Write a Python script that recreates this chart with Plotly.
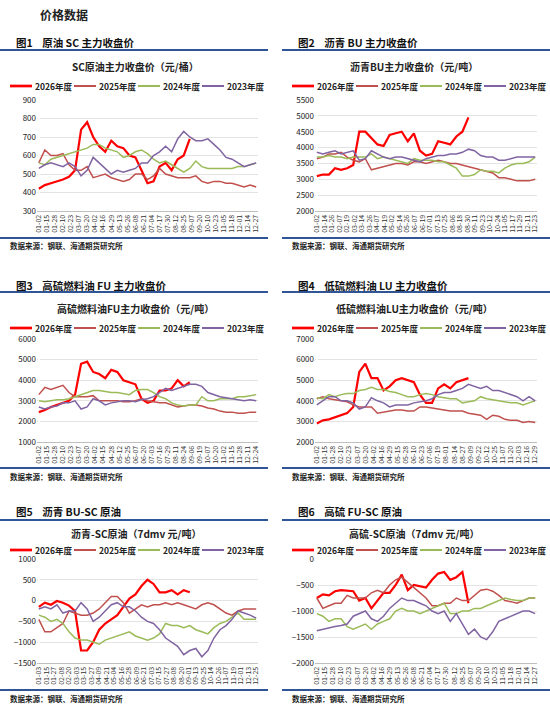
import plotly.graph_objects as go

# sample days (every 10 days from 01-02)
days = list(range(0, 361, 10))

years = ["2026年度", "2025年度", "2024年度", "2023年度"]
colors = ["#FF0000", "#C0504D", "#9BBB59", "#8064A2"]
widths = [2.2, 1.5, 1.5, 1.5]

# 图1 SC
sc_2026 = [420, 440, 450, 460, 470, 485, 520, 740, 780, 700, 650, 620, 680, 650, 640, 600, 590, 520, 450, 460, 540, 560, 520, 580, 600, 690]
sc_2025 = [560, 630, 600, 600, 610, 550, 520, 520, 540, 480, 490, 500, 480, 470, 460, 470, 500, 500, 470, 490, 530, 500, 490, 480, 480, 480, 490, 460, 450, 460, 460, 450, 450, 440, 430, 440, 430]
sc_2024 = [560, 550, 580, 590, 600, 610, 620, 630, 640, 660, 660, 640, 630, 620, 590, 600, 620, 630, 610, 580, 560, 570, 550, 530, 510, 530, 570, 540, 530, 530, 530, 530, 530, 540, 540, 550, 560]
sc_2023 = [530, 550, 560, 550, 540, 560, 540, 490, 520, 590, 560, 530, 500, 520, 510, 520, 530, 560, 560, 600, 620, 650, 620, 690, 730, 700, 680, 680, 690, 660, 630, 590, 580, 560, 540, 550, 560]

# 图2 BU
bu_2026 = [3100, 3150, 3150, 3350, 3300, 3350, 3450, 4500, 4500, 4300, 4100, 4050, 4400, 4450, 4500, 4200, 4450, 3900, 3750, 3800, 4200, 4150, 4100, 4350, 4500, 4950]
bu_2025 = [3650, 3700, 3800, 3800, 3850, 3700, 3600, 3550, 3650, 3300, 3350, 3400, 3450, 3500, 3500, 3450, 3550, 3550, 3500, 3550, 3600, 3550, 3500, 3500, 3450, 3400, 3350, 3300, 3250, 3200, 3050, 3050, 3000, 2950, 2950, 2950, 3000]
bu_2024 = [3700, 3700, 3750, 3700, 3700, 3650, 3700, 3700, 3700, 3800, 3650, 3700, 3650, 3600, 3550, 3500, 3650, 3600, 3600, 3600, 3550, 3550, 3450, 3350, 3100, 3100, 3150, 3300, 3250, 3250, 3200, 3350, 3450, 3500, 3500, 3550, 3700]
bu_2023 = [3850, 3800, 3850, 3900, 3800, 3850, 3900, 3600, 3650, 3900, 3800, 3700, 3650, 3700, 3700, 3650, 3600, 3550, 3650, 3700, 3750, 3750, 3800, 3800, 3850, 3950, 3900, 3750, 3700, 3700, 3600, 3600, 3650, 3700, 3700, 3700, 3700]

# 图3 FU
fu_2026 = [2450, 2550, 2700, 2800, 2900, 3000, 3300, 4800, 4900, 4400, 4300, 4100, 4500, 4400, 4000, 3900, 3800, 3100, 2900, 3000, 3500, 3500, 3600, 4000, 3700, 3900]
fu_2025 = [3300, 3650, 3550, 3650, 3750, 3400, 3200, 3200, 3200, 3250, 3000, 3000, 3000, 3000, 2950, 2950, 3000, 3100, 3000, 2950, 2900, 2900, 2800, 2700, 2750, 2800, 2800, 2750, 2650, 2600, 2500, 2450, 2450, 2400, 2400, 2450, 2450]
fu_2024 = [3000, 2950, 3000, 3050, 3050, 3100, 3200, 3300, 3400, 3500, 3500, 3450, 3400, 3400, 3350, 3300, 3500, 3550, 3550, 3400, 3200, 3100, 2900, 2800, 2750, 2800, 2800, 3200, 3000, 3000, 3100, 3100, 3100, 3200, 3200, 3250, 3300]
fu_2023 = [2700, 2600, 2700, 2750, 2900, 2900, 3000, 2600, 2700, 3100, 3000, 2800, 2900, 2950, 3000, 3000, 2950, 3050, 3100, 3200, 3400, 3600, 3500, 3600, 3700, 3800, 3800, 3700, 3400, 3300, 3200, 3150, 3100, 3050, 3000, 3050, 3000]

# 图4 LU
lu_2026 = [2900, 3050, 3100, 3200, 3300, 3400, 3700, 5400, 5800, 5100, 5100, 4500, 4700, 5000, 5100, 5000, 4900, 4300, 3900, 3900, 4600, 4800, 4600, 4900, 5000, 5100]
lu_2025 = [4100, 4200, 4100, 4050, 4000, 3950, 3800, 3700, 3700, 3700, 3400, 3450, 3500, 3550, 3550, 3500, 3500, 3700, 3700, 3650, 3600, 3550, 3500, 3500, 3500, 3400, 3350, 3300, 3100, 3300, 3250, 3100, 3050, 3050, 2950, 3000, 2950]
lu_2024 = [4150, 4100, 4300, 4200, 4300, 4350, 4350, 4500, 4550, 4650, 4550, 4550, 4450, 4400, 4300, 4200, 4200, 4300, 4350, 4300, 4200, 4150, 4100, 4100, 3900, 3950, 4000, 4200, 4100, 4050, 4000, 3950, 3900, 3900, 3800, 3900, 4000]
lu_2023 = [3800, 4000, 4200, 4200, 4000, 4000, 3900, 3600, 3700, 4150, 4000, 3900, 3700, 3800, 3800, 3800, 3900, 3950, 4000, 4100, 4300, 4400, 4400, 4500, 4600, 4800, 4700, 4600, 4700, 4500, 4500, 4400, 4300, 4200, 4000, 4200, 4000]

# 图5 BU-SC
busc_2026 = [-150, -50, -100, -10, -50, -120, -250, -1200, -1200, -1000, -700, -550, -450, -350, -150, 50, 150, 350, 500, 400, 200, 200, 250, 150, 250, 200]
busc_2025 = [-450, -750, -750, -650, -550, -250, -300, -350, -350, -300, -200, -50, 100, 100, -50, -300, -200, -100, -150, -100, -100, -50, -100, -50, -100, -150, -200, -100, -50, -100, -200, -300, -350, -250, -200, -200, -200]
busc_2024 = [-350, -400, -500, -450, -550, -750, -900, -950, -950, -1000, -1050, -950, -900, -850, -800, -750, -850, -900, -950, -900, -800, -550, -600, -600, -650, -600, -700, -750, -800, -650, -550, -500, -400, -300, -450, -450, -450]
busc_2023 = [-200, -150, -200, -100, -300, -250, -250, -50, -200, -500, -400, -250, -100, -50, -150, -150, -250, -400, -500, -550, -700, -900, -1000, -1100, -1300, -1200, -1150, -1350, -1200, -900, -700, -600, -450, -250, -300, -350, -420]

# 图6 FU-SC
fusc_2026 = [-750, -680, -700, -620, -600, -610, -620, -800, -750, -950, -800, -650, -650, -500, -300, -600, -500, -520, -550, -400, -280, -250, -400, -350, -250, -850]
fusc_2025 = [-750, -950, -900, -850, -850, -700, -750, -750, -750, -650, -600, -650, -500, -400, -350, -450, -550, -650, -750, -900, -900, -850, -850, -750, -800, -800, -700, -600, -580, -620, -700, -800, -820, -850, -800, -750, -750]
fusc_2024 = [-1050, -1100, -1200, -1150, -1150, -1300, -1350, -1300, -1250, -1350, -1250, -1200, -1150, -1000, -950, -1000, -1000, -1050, -1000, -950, -900, -850, -1050, -1050, -1000, -1000, -950, -950, -900, -850, -800, -750, -780, -800, -800, -750, -750]
fusc_2023 = [-1380, -1350, -1320, -1300, -1280, -1250, -1100, -1050, -1000, -1150, -1200, -1100, -950, -850, -750, -800, -800, -850, -900, -1000, -1050, -1000, -1200, -1050, -1250, -1450, -1350, -1500, -1550, -1400, -1200, -1150, -1100, -1050, -1000, -1000, -1050]

ticks_a = ["01-02", "01-15", "01-28", "02-10", "02-23", "03-07", "03-20", "04-02", "04-16", "04-29", "05-13", "05-26", "06-08", "06-21", "07-04", "07-17", "07-30", "08-12", "08-25", "09-07", "09-20", "10-10", "10-23", "11-05", "11-18", "12-01", "12-14", "12-27"]
ticks_bu = ["01-02", "01-14", "01-26", "02-07", "02-19", "03-02", "03-14", "03-26", "04-07", "04-19", "05-02", "05-14", "05-26", "06-07", "06-19", "07-01", "07-13", "07-25", "08-06", "08-18", "08-30", "09-11", "09-23", "10-12", "10-24", "11-05", "11-17", "11-29", "12-11", "12-23"]
ticks_fu = ["01-02", "01-15", "01-28", "02-10", "02-23", "03-07", "03-20", "04-02", "04-15", "04-28", "05-12", "05-25", "06-07", "06-20", "07-03", "07-16", "07-29", "08-11", "08-24", "09-06", "09-19", "10-07", "10-20", "11-02", "11-15", "11-28", "12-11", "12-24"]
ticks_lu = ["01-02", "01-15", "01-28", "02-10", "02-23", "03-07", "03-20", "04-02", "04-16", "04-29", "05-15", "05-28", "06-10", "06-23", "07-06", "07-19", "08-01", "08-14", "08-27", "09-09", "09-22", "10-12", "10-25", "11-07", "11-20", "12-03", "12-16", "12-29"]
ticks_busc = ["01-03", "01-15", "01-27", "02-08", "02-20", "03-03", "03-15", "03-27", "04-09", "04-21", "05-04", "05-16", "05-28", "06-09", "06-21", "07-03", "07-15", "07-27", "08-08", "08-20", "09-01", "09-13", "09-25", "10-14", "10-26", "11-07", "11-19", "12-01", "12-13", "12-25"]

panels = [
    ("图1", "原油 SC 主力收盘价", "SC原油主力收盘价（元/桶）", [sc_2026, sc_2025, sc_2024, sc_2023], ticks_a, [300, 900], 100),
    ("图2", "沥青 BU 主力收盘价", "沥青BU主力收盘价（元/吨）", [bu_2026, bu_2025, bu_2024, bu_2023], ticks_bu, [2000, 5500], 500),
    ("图3", "高硫燃料油 FU 主力收盘价", "高硫燃料油FU主力收盘价（元/吨）", [fu_2026, fu_2025, fu_2024, fu_2023], ticks_fu, [1000, 6000], 1000),
    ("图4", "低硫燃料油 LU 主力收盘价", "低硫燃料油LU主力收盘价（元/吨）", [lu_2026, lu_2025, lu_2024, lu_2023], ticks_lu, [2000, 7000], 1000),
    ("图5", "沥青 BU-SC 原油", "沥青-SC原油（7dmv 元/吨）", [busc_2026, busc_2025, busc_2024, busc_2023], ticks_busc, [-1500, 1000], 500),
    ("图6", "高硫 FU-SC 原油", "高硫-SC原油（7dmv 元/吨）", [fusc_2026, fusc_2025, fusc_2024, fusc_2023], ticks_a, [-2000, 0], 500),
]

W, H = 550, 704
col_x = [(37, 258), (315, 537)]
# rows: header y, line y, title y, legend y, plot top, plot bottom, bottom line y, source y
rows = [
    (42, 50, 66, 86, 100, 211, 238, 246),
    (285, 292, 308, 328, 339, 442, 468, 476),
    (511, 520, 533, 550, 559, 663, 690, 698),
]

fig = go.Figure()
annotations = []
shapes = []
FONT = "Noto Sans CJK SC"

def px(v):
    return v / W

def py(v):
    return 1 - v / H

def note(text, x, y, size, anchor="left", color="#222"):
    annotations.append(dict(text=f"<b>{text}</b>", x=px(x), y=py(y), xref="paper", yref="paper",
                            showarrow=False, xanchor=anchor, yanchor="middle",
                            font=dict(size=size, color=color)))

note("价格数据", 38, 14, 12)

for k, (fig_no, head, title, series, ticks, yr, dt) in enumerate(panels):
    r, c = divmod(k, 2)
    hy, ly, ty, gy, top, bot, bly, sy = rows[r]
    x0, x1 = col_x[c]
    n = k + 1
    xa = "x" if n == 1 else f"x{n}"
    ya = "y" if n == 1 else f"y{n}"
    tickpos = [i * 360 / (len(ticks) - 1) for i in range(len(ticks))]
    for vals, name, col, w in zip(series, years, colors, widths):
        fig.add_trace(go.Scatter(x=days[:len(vals)], y=vals, name=name, mode="lines",
                                 line=dict(color=col, width=w), xaxis=xa, yaxis=ya, showlegend=False))
    fig.layout[xa.replace("x", "xaxis")] = dict(
        domain=[px(x0), px(x1)], anchor=ya, range=[-3, 363], tickvals=tickpos, ticktext=ticks,
        tickangle=-90, tickfont=dict(size=7, color="#333"), showgrid=False, showline=True,
        linecolor="#bfbfbf", ticks="", fixedrange=True, automargin=False)
    fig.layout[ya.replace("y", "yaxis")] = dict(
        domain=[py(bot), py(top)], anchor=xa, range=yr, dtick=dt, tickfont=dict(size=8, color="#222"),
        gridcolor="#e3e3e3", zeroline=False, showline=False, fixedrange=True, automargin=False,
        tickformat="d")
    lx0 = 0 if c == 0 else 282
    lx1 = 268 if c == 0 else 550
    # hand-drawn legend
    step = 64
    for j, (name, col, w) in enumerate(zip(years, colors, widths)):
        sx = lx0 + 10 + j * step
        shapes.append(dict(type="line", xref="paper", yref="paper", x0=px(sx), x1=px(sx + 22),
                           y0=py(gy), y1=py(gy), line=dict(color=col, width=w + 0.5)))
        note(name, sx + 23, gy, 8.5)
    note(f"{fig_no}    {head}", lx0 + 14, hy, 10.5, color="#111")
    note(title, (x0 + x1) / 2 - 12, ty, 10, anchor="center")
    note("数据来源：钢联、海通期货研究所", lx0 + 8, sy, 7.5)
    for yy in (ly, bly):
        shapes.append(dict(type="line", xref="paper", yref="paper", x0=px(lx0), x1=px(lx1),
                           y0=py(yy), y1=py(yy), line=dict(color="#2F5597", width=2)))

fig.update_layout(width=W, height=H, margin=dict(l=0, r=0, t=0, b=0), plot_bgcolor="white",
                  paper_bgcolor="white", font=dict(family=FONT), annotations=annotations,
                  shapes=shapes, showlegend=False)
fig.write_html("out.html", config={"displayModeBar": False},
               post_script="document.body.style.margin='0';")
